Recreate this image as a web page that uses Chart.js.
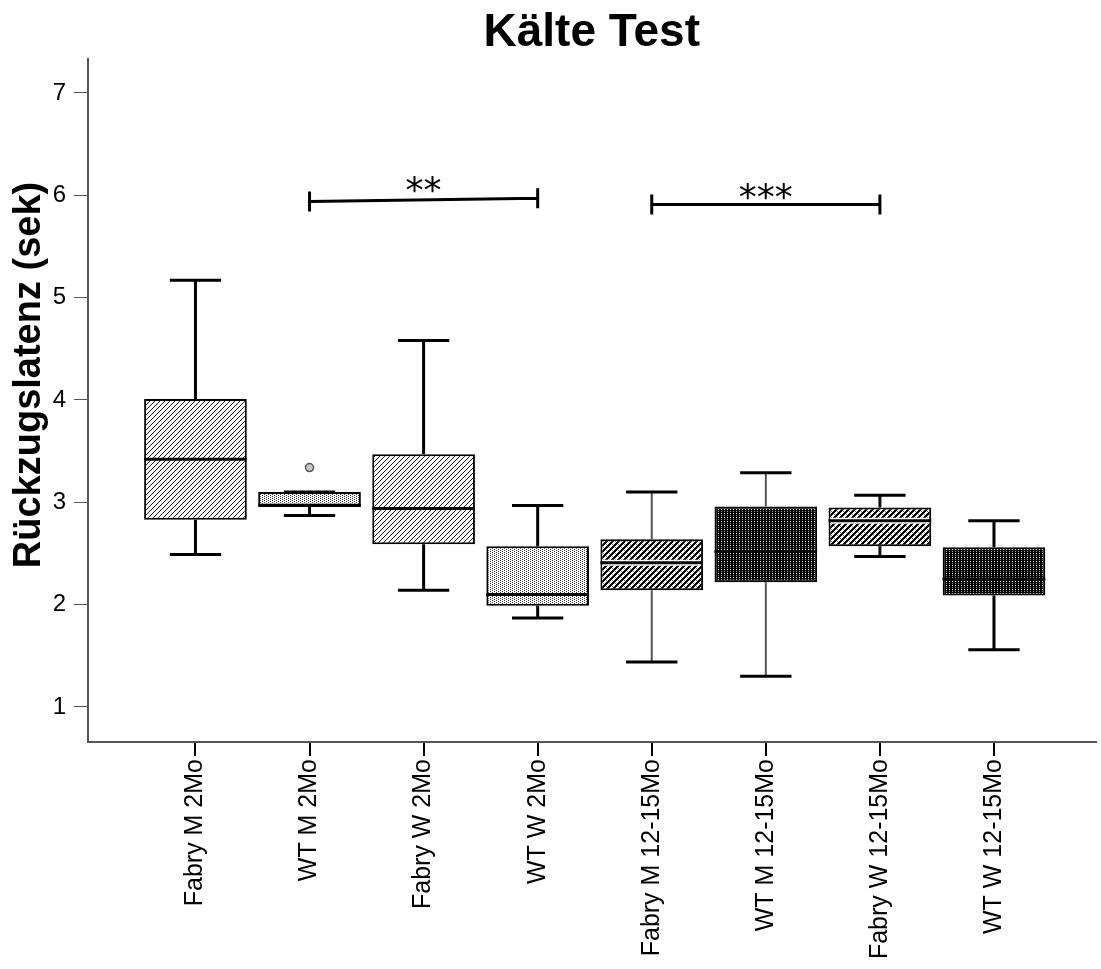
<!DOCTYPE html>
<html>
<head>
<meta charset="utf-8">
<script src="https://cdn.jsdelivr.net/npm/chart.js@4.4.1/dist/chart.umd.min.js"></script>
<style>
  html, body { margin: 0; padding: 0; background: #fff; }
  #wrap { width: 1101px; height: 969px; }
</style>
</head>
<body>
<div id="wrap"><canvas id="chart" width="1101" height="969"></canvas></div>
<script>
// Box plot values (seconds)
const groups = ['Fabry M 2Mo', 'WT M 2Mo', 'Fabry W 2Mo', 'WT W 2Mo',
  'Fabry M 12-15Mo', 'WT M 12-15Mo', 'Fabry W 12-15Mo', 'WT W 12-15Mo'];
const whiskerLow  = [2.49, 2.87, 2.14, 1.87, 1.44, 1.30, 2.47, 1.56];
const boxLow      = [2.83, 2.97, 2.59, 1.99, 2.14, 2.22, 2.57, 2.09];
const medians     = [3.42, 2.97, 2.94, 2.10, 2.41, 2.52, 2.82, 2.25];
const boxHigh     = [4.01, 3.10, 3.47, 2.57, 2.64, 2.96, 2.95, 2.56];
const whiskerHigh = [5.17, 3.10, 4.58, 2.97, 3.10, 3.29, 3.07, 2.82];

const outlierGroup = [1];
const outlierValue = [3.34];

// significance brackets
const sigFrom   = [1, 4];
const sigTo     = [3, 6];
const sigLeftY  = [5.94, 5.91];
const sigRightY = [5.97, 5.91];
const sigLabels = ['**', '***'];

const yTicks = [1, 2, 3, 4, 5, 6, 7];

const FONT = '"Liberation Sans", Arial, Helvetica, sans-serif';

/**
 * Build a repeating fill from a small pixel tile
 */
function makePattern(w, h, painter) {
  const c = document.createElement('canvas');
  c.width = w;
  c.height = h;
  const g = c.getContext('2d');
  g.fillStyle = '#fff';
  g.fillRect(0, 0, w, h);
  for (let x = 0; x < w; x++) {
    for (let y = 0; y < h; y++) {
      const col = painter(x, y);
      if (col) {
        g.fillStyle = col;
        g.fillRect(x, y, 1, 1);
      }
    }
  }
  return document.getElementById('chart').getContext('2d').createPattern(c, 'repeat');
}

const lightHatch = makePattern(5, 5, (x, y) => ((x + y) % 5 === 0 ? '#1a1a1a' : null));
const lightDots = makePattern(4, 2, (x, y) => ((y === 0 && x === 0) || (y === 1 && x === 2) ? '#333' : null));
const darkHatch = makePattern(6, 6, (x, y) => {
  const d = (x + y) % 6;
  if (d < 3) return '#000';
  if (d === 4 && x % 3 === 0) return '#777';
  return null;
});
const darkDots = makePattern(3, 4, (x, y) => {
  if (x === 1 && y === 1) return '#fff';
  if (x === 1 && y === 3) return '#999';
  return '#000';
});

const fills = [lightHatch, lightDots, lightHatch, lightDots, darkHatch, darkDots, darkHatch, darkDots];
const whiskerStyle = [
  { w: 3, c: '#000' }, { w: 3, c: '#000' }, { w: 3, c: '#000' }, { w: 3, c: '#000' },
  { w: 2, c: '#555' }, { w: 2, c: '#555' }, { w: 3, c: '#111' }, { w: 3, c: '#000' }
];

const boxPlugin = {
  id: 'boxWhiskers',
  afterDatasetsDraw(chart) {
    const { ctx, scales: { x, y } } = chart;
    const meta = chart.getDatasetMeta(0);
    ctx.save();
    groups.forEach((_, i) => {
      const bar = meta.data[i];
      const half = bar.width / 2;
      const cx = x.getPixelForValue(i);
      const capHalf = half / 2;
      const st = whiskerStyle[i];

      // whisker stems
      ctx.strokeStyle = st.c;
      ctx.lineWidth = st.w;
      ctx.beginPath();
      ctx.moveTo(cx, y.getPixelForValue(boxHigh[i]));
      ctx.lineTo(cx, y.getPixelForValue(whiskerHigh[i]));
      ctx.moveTo(cx, y.getPixelForValue(boxLow[i]));
      ctx.lineTo(cx, y.getPixelForValue(whiskerLow[i]));
      ctx.stroke();

      // caps
      ctx.strokeStyle = '#000';
      ctx.lineWidth = 3;
      ctx.beginPath();
      [whiskerHigh[i], whiskerLow[i]].forEach(v => {
        const py = y.getPixelForValue(v);
        ctx.moveTo(cx - capHalf, py);
        ctx.lineTo(cx + capHalf, py);
      });
      ctx.stroke();

      // median
      const my = y.getPixelForValue(medians[i]);
      if (fills[i] === darkHatch) {
        ctx.strokeStyle = '#fff';
        ctx.lineWidth = 6;
        ctx.beginPath();
        ctx.moveTo(cx - half + 2, my);
        ctx.lineTo(cx + half - 2, my);
        ctx.stroke();
      }
      ctx.strokeStyle = '#000';
      ctx.lineWidth = 3;
      ctx.beginPath();
      ctx.moveTo(cx - half, my);
      ctx.lineTo(cx + half, my);
      ctx.stroke();
    });

    // significance brackets
    ctx.strokeStyle = '#000';
    ctx.fillStyle = '#000';
    ctx.lineWidth = 3;
    sigFrom.forEach((from, k) => {
      const x1 = x.getPixelForValue(from);
      const x2 = x.getPixelForValue(sigTo[k]);
      const y1 = y.getPixelForValue(sigLeftY[k]);
      const y2 = y.getPixelForValue(sigRightY[k]);
      ctx.beginPath();
      ctx.moveTo(x1, y1);
      ctx.lineTo(x2, y2);
      ctx.moveTo(x1, y1 - 10);
      ctx.lineTo(x1, y1 + 10);
      ctx.moveTo(x2, y2 - 10);
      ctx.lineTo(x2, y2 + 10);
      ctx.stroke();
      ctx.font = '36px "DejaVu Sans", sans-serif';
      ctx.textAlign = 'center';
      ctx.textBaseline = 'alphabetic';
      ctx.fillText(sigLabels[k], (x1 + x2) / 2, Math.min(y1, y2) + 4);
    });
    ctx.restore();
  },
  afterDraw(chart) {
    // rotated y axis title
    const { ctx } = chart;
    ctx.save();
    ctx.translate(30, 375);
    ctx.rotate(-Math.PI / 2);
    ctx.font = 'bold 38px ' + FONT;
    ctx.fillStyle = '#000';
    ctx.textAlign = 'center';
    ctx.textBaseline = 'middle';
    ctx.fillText('Rückzugslatenz (sek)', 0, 0);
    ctx.restore();
  }
};

new Chart(document.getElementById('chart'), {
  type: 'bar',
  data: {
    datasets: [{
      type: 'bar',
      data: groups.map((g, i) => ({ x: i, y: [boxLow[i], boxHigh[i]] })),
      backgroundColor: fills,
      borderColor: '#000',
      borderWidth: 2,
      borderSkipped: false,
      barPercentage: 0.9,
      categoryPercentage: 1.0,
      grouped: false
    }, {
      type: 'scatter',
      data: outlierGroup.map((g, k) => ({ x: g, y: outlierValue[k] })),
      pointRadius: 4,
      pointBackgroundColor: '#c8c8c8',
      pointBorderColor: '#555',
      pointBorderWidth: 1.5
    }]
  },
  options: {
    responsive: false,
    animation: false,
    devicePixelRatio: 1,
    layout: { padding: 0 },
    plugins: {
      legend: { display: false },
      tooltip: { enabled: false },
      title: {
        display: true,
        fullSize: false,
        text: 'Kälte Test',
        color: '#000',
        font: { family: FONT, size: 46, weight: 'bold', lineHeight: 1.13 },
        padding: { top: 7, bottom: 0 }
      }
    },
    scales: {
      x: {
        type: 'linear',
        offset: false,
        min: -0.942,
        max: 7.89,
        afterBuildTicks: s => { s.ticks = groups.map((_, i) => ({ value: i })); },
        afterFit: s => { s.height = 227; },
        ticks: {
          callback: v => groups[v],
          autoSkip: false,
          minRotation: 90,
          maxRotation: 90,
          color: '#000',
          padding: 3,
          font: { family: FONT, size: 25 }
        },
        grid: { offset: false, drawOnChartArea: false, drawTicks: true, tickLength: 14, color: '#000', lineWidth: 2 },
        border: { color: '#555', width: 2 }
      },
      y: {
        min: 0.658,
        max: 7.332,
        afterBuildTicks: s => { s.ticks = yTicks.map(v => ({ value: v })); },
        afterFit: s => { s.width = 88; },
        ticks: {
          color: '#000',
          padding: 8,
          font: { family: FONT, size: 24 }
        },
        grid: { drawOnChartArea: false, drawTicks: true, tickLength: 14, color: '#555', lineWidth: 1 },
        border: { color: '#555', width: 2 }
      }
    }
  },
  plugins: [boxPlugin]
});
</script>
</body>
</html>
